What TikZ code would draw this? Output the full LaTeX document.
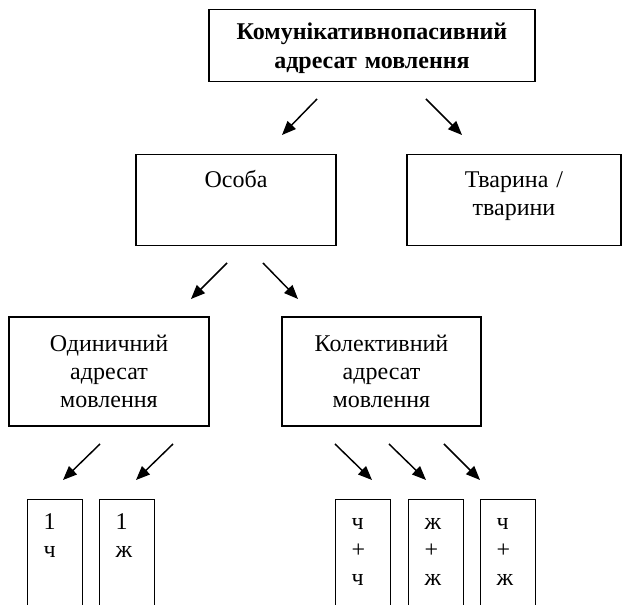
\documentclass[tikz,border=0pt]{standalone}
\usepackage{fontspec}
\setmainfont{Liberation Serif}
\usetikzlibrary{arrows.meta}

\tikzset{
  box/.style={draw, line width=0.8pt, align=center, inner sep=0pt, font=\fontsize{18}{21}\selectfont},
  topbox/.style={box, text height=13pt, inner ysep=11.75pt, anchor=north},
  smallbox/.style={box, anchor=north west, align=left, inner xsep=12pt, text width=17pt, inner ysep=9.5pt, text height=13pt, text depth=100pt},
  arr/.style={line width=1.1pt, -{Triangle[length=10.5pt,width=8.5pt]}}
}

\begin{document}
\begin{tikzpicture}[x=0.75pt,y=0.75pt,yscale=-1,xscale=1]
		\useasboundingbox (0,0) rectangle (622,605);
		\clip (0,0) rectangle (622,605);
		
		% Top Node
		\node[box, anchor=north, text width=244.5pt, text height=13pt, inner ysep=9.5pt, text depth=22pt, font=\fontsize{18}{21.75}\selectfont\bfseries] (root) at (372,9) {Комунікативнопасивний\\адресат мовлення};
		
		% Second row
		\node[topbox, text width=150pt, text depth=31.75pt] (osoba) at (236,154) {Особа};
		\node[topbox, text width=160.5pt, text depth=31.75pt] (tvaryna) at (514,154) {Тварина /\\тварини};
		
		% Third row
		\node[box, text width=150pt, minimum height=81.75pt] (odyn) at (109,371.5) {Одиничний\\адресат\\мовлення};
		\node[box, text width=149.25pt, minimum height=81.75pt] (kolekt) at (381.5,371.5) {Колективний\\адресат\\мовлення};
		
		% Bottom cells
		\node[smallbox] (ch) at (27,499) {1\\ч};
		\node[smallbox] (zh) at (99,499) {1\\ж};
		\node[smallbox] (chch) at (335,499) {ч\\+\\ч};
		\node[smallbox] (zhzh) at (408,499) {ж\\+\\ж};
		\node[smallbox] (chzh) at (480,499) {ч\\+\\ж};
		
		% Arrow ends
		\coordinate (r1) at (317,99);   \coordinate (r2) at (282,135);
		\coordinate (r3) at (426,99);   \coordinate (r4) at (462,135);
		\coordinate (o1) at (227,263);  \coordinate (o2) at (191,299);
		\coordinate (o3) at (263,263);  \coordinate (o4) at (298,299);
		\coordinate (a1) at (100,444);  \coordinate (a2) at (63,480);
		\coordinate (b1) at (173,444);  \coordinate (b2) at (136,480);
		\coordinate (c1) at (335,444);  \coordinate (c2) at (372,480);
		\coordinate (d1) at (389,444);  \coordinate (d2) at (426,480);
		\coordinate (e1) at (444,444);  \coordinate (e2) at (480,480);
		
		%Straight Lines
		\draw[arr] (r1) -- (r2);
		\draw[arr] (r3) -- (r4);
		\draw[arr] (o1) -- (o2);
		\draw[arr] (o3) -- (o4);
		\draw[arr] (a1) -- (a2);
		\draw[arr] (b1) -- (b2);
		\draw[arr] (c1) -- (c2);
		\draw[arr] (d1) -- (d2);
		\draw[arr] (e1) -- (e2);
		
\end{tikzpicture}
\end{document}
